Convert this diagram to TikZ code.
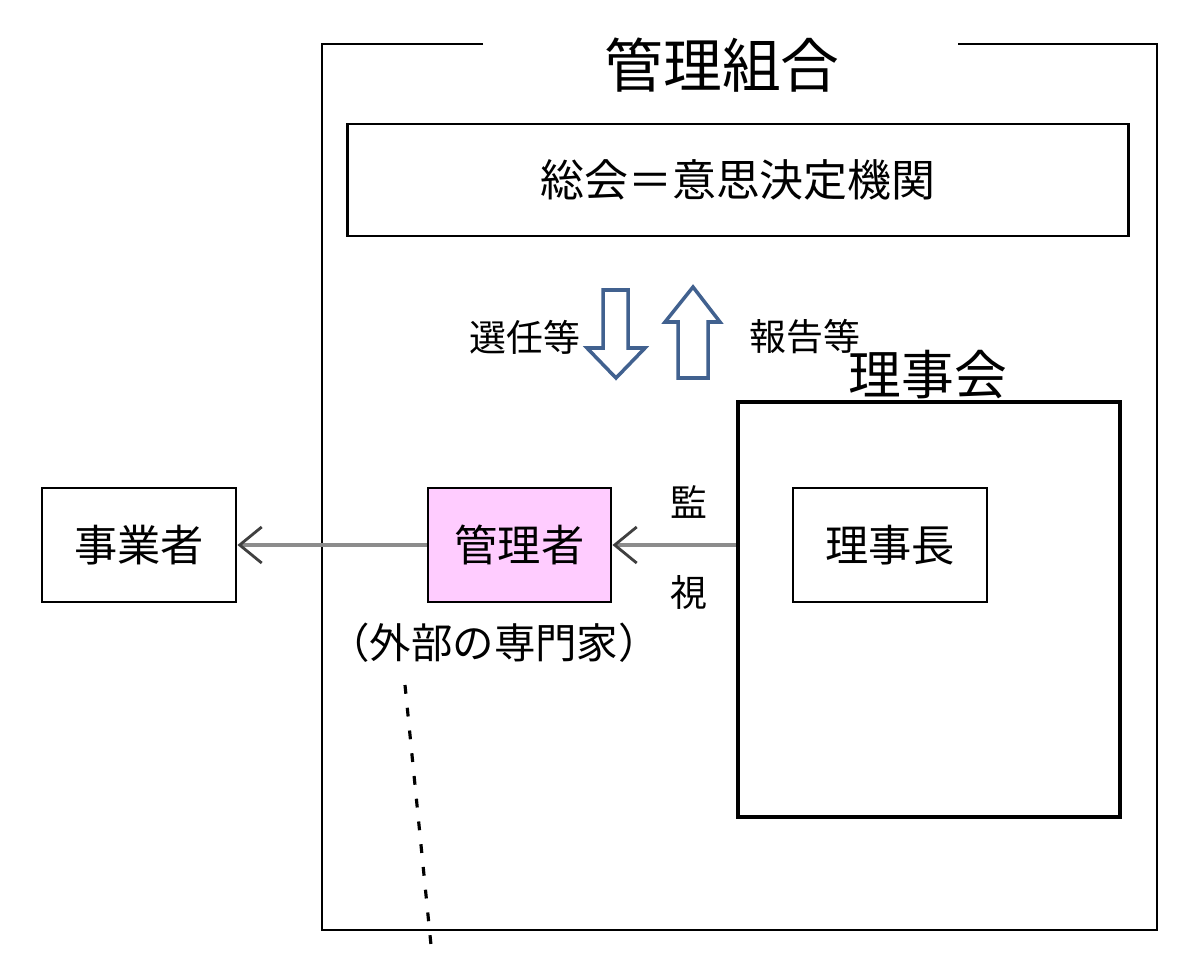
\documentclass[tikz,border=0pt]{standalone}
\usepackage{fontspec}
\setmainfont{Noto Sans CJK JP}
\usetikzlibrary{arrows.meta}
\definecolor{kanriPink}{HTML}{FFCCFF}
\definecolor{arrowBlue}{HTML}{41618F}
\definecolor{connGray}{HTML}{8C8C8C}

\begin{document}
\begin{tikzpicture}[x=0.01cm, y=-0.01cm,
    box/.style={draw, line width=0.8pt, inner sep=0pt, font=\fontsize{12.3}{14}\selectfont},
    txt/.style={inner sep=0pt, font=\fontsize{10.5}{12}\selectfont},
    conn/.style={draw=connGray, line width=1pt, -{Straight Barb[length=2.2mm, width=3.6mm, line width=0.8pt, color=black!75]}},
    hollow/.style={draw=arrowBlue, line width=1pt, fill=white, line join=miter}]
    \useasboundingbox (0,0) rectangle (1200,970);
    % 管理組合 frame
    \node[txt, font=\fontsize{16.7}{19}\selectfont] (kumiai) at (722,65) {管理組合};
    \draw[line width=0.8pt] (483,44) -- (322,44) -- (322,930) -- (1157,930) -- (1157,44) -- (958,44);
    \node[box, minimum width=7.8cm, minimum height=1.12cm, font=\fontsize{12.5}{14}\selectfont] (sokai) at (738,180) {総会＝意思決定機関};
    % 選任 / 報告
    \draw[hollow] (603,290) -- (628,290) -- (628,348) -- (645,348) -- (616,378) -- (587,348) -- (603,348) -- cycle;
    \draw[hollow] (678,378) -- (708,378) -- (708,322) -- (720,322) -- (693,287) -- (665,322) -- (678,322) -- cycle;
    \node[txt] (senin) at (525,337) {選任等};
    \node[txt] (hokoku) at (805,337) {報告等};
    % 理事会
    \node[txt, font=\fontsize{15}{17}\selectfont] (rijikaiLabel) at (928,375) {理事会};
    \node[draw, line width=1.1pt, minimum width=3.82cm, minimum height=4.15cm, inner sep=0pt] (rijikai) at (929,609.5) {};
    \node[box] (rijicho) at (890,545) [minimum width=1.94cm, minimum height=1.14cm] {理事長};
    % 管理者, 事業者
    \node[box, fill=kanriPink, minimum width=1.83cm, minimum height=1.14cm] (kanrisha) at (519.5,545) {管理者};
    \node[box, minimum width=1.94cm, minimum height=1.14cm] (jigyosha) at (139,545) {事業者};
    \node[txt, font=\fontsize{11.8}{13}\selectfont] (gaibu) at (494,643) {（外部の専門家）};
    \node[txt] (kan) at (689,502) {監};
    \node[txt] (shi) at (689,592) {視};
    \draw[conn] (rijikai.west |- kanrisha) -- (kanrisha.east);
    \draw[conn] (kanrisha.west) -- (jigyosha.east);
    % 破線
    \coordinate (dashTop) at (405,685);
    \coordinate (dashEnd) at (432,955);
    \draw[line width=0.9pt, dash pattern=on 2.5pt off 4pt] (dashTop) -- (dashEnd);
\end{tikzpicture}
\end{document}
